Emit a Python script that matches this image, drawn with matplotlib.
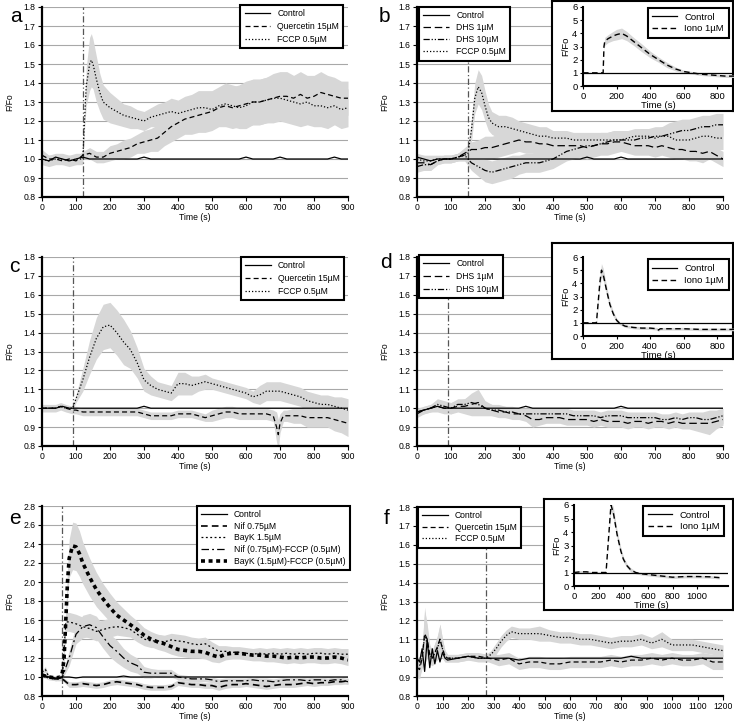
import numpy as np
import matplotlib
matplotlib.use("Agg")
import matplotlib.pyplot as plt

plt.rcParams['font.family'] = ['Liberation Sans', 'DejaVu Sans']

# regular 20 s sampling grid used by most traces of the 900 s panels
t900 = np.arange(0, 901, 20)

# ---------------- panel a ----------------
a_ctrl = [1.00,0.99,1.01,1.00,0.99,1.00,1.01,1.00,1.00,1.00,
          1.00,1.00,1.00,1.00,1.00,1.01,1.00,1.00,1.00,1.00,
          1.00,1.00,1.00,1.00,1.00,1.00,1.00,1.00,1.00,1.00,
          1.01,1.00,1.00,1.00,1.00,1.01,1.00,1.00,1.00,1.00,
          1.00,1.00,1.00,1.01,1.00,1.00]
a_quer = [1.02,1.00,1.00,0.99,1.00,0.99,1.02,1.03,1.01,1.01,
          1.03,1.04,1.05,1.06,1.08,1.09,1.10,1.11,1.14,1.17,
          1.19,1.21,1.22,1.23,1.24,1.25,1.27,1.28,1.27,1.28,
          1.29,1.30,1.30,1.31,1.32,1.33,1.33,1.32,1.34,1.32,
          1.33,1.35,1.34,1.33,1.32,1.32]
a_quer_err = [0.03,0.02,0.02,0.02,0.02,0.02,0.02,0.03,0.03,0.03,
              0.04,0.04,0.05,0.05,0.05,0.06,0.06,0.07,0.07,0.08,
              0.08,0.08,0.09,0.09,0.10,0.10,0.10,0.11,0.11,0.11,
              0.12,0.12,0.12,0.12,0.13,0.13,0.13,0.12,0.12,0.12,
              0.11,0.11,0.10,0.10,0.09,0.09]
a_fccp_t = [0,20,40,60,80,100,120,125,130,140,145,150,160,170,180,
            200,220,240,260,280,300,320,340,360,380,400,420,440,460,480,
            500,520,540,560,580,600,620,640,660,680,700,720,740,760,780,
            800,820,840,860,880,900]
a_fccp = [1.00,0.99,1.00,1.00,0.99,1.00,1.00,1.20,1.38,1.50,1.52,1.50,1.42,1.35,1.30,
          1.27,1.25,1.23,1.22,1.21,1.20,1.22,1.23,1.24,1.25,1.24,1.25,1.26,1.27,1.27,
          1.26,1.28,1.29,1.28,1.27,1.28,1.30,1.30,1.31,1.32,1.32,1.31,1.30,1.29,1.30,
          1.28,1.28,1.27,1.28,1.26,1.27]
a_fccp_err = [0.03,0.03,0.03,0.03,0.03,0.03,0.03,0.05,0.10,0.14,0.14,0.13,0.12,0.10,0.09,
              0.08,0.07,0.06,0.06,0.05,0.05,0.05,0.06,0.06,0.07,0.07,0.08,0.08,0.09,0.09,
              0.10,0.10,0.11,0.11,0.11,0.12,0.12,0.12,0.12,0.12,0.12,0.12,0.12,0.12,0.12,
              0.11,0.11,0.11,0.10,0.10,0.10]

# ---------------- panel b ----------------
b_ctrl = [1.01,1.00,0.99,1.00,1.00,1.00,1.00,1.00,1.00,1.00,
          1.00,1.00,1.00,1.00,1.00,1.00,1.00,1.00,1.00,1.00,
          1.00,1.00,1.00,1.00,1.00,1.01,1.00,1.00,1.00,1.00,
          1.01,1.00,1.00,1.00,1.00,1.00,1.00,1.00,1.00,1.00,
          1.00,1.00,1.00,1.00,1.00,1.00]
b_dhs1 = [0.98,0.98,0.97,0.99,1.00,1.00,1.01,1.03,1.05,1.05,
          1.06,1.06,1.07,1.08,1.09,1.10,1.09,1.09,1.08,1.08,
          1.07,1.07,1.07,1.07,1.07,1.06,1.07,1.08,1.08,1.09,
          1.09,1.08,1.07,1.07,1.07,1.06,1.07,1.06,1.05,1.05,
          1.04,1.04,1.03,1.04,1.02,1.00]
b_dhs1_err = [0.04,0.04,0.03,0.02,0.02,0.02,0.02,0.03,0.04,0.05,
              0.06,0.06,0.06,0.06,0.06,0.06,0.06,0.06,0.06,0.06,
              0.06,0.06,0.06,0.06,0.06,0.06,0.06,0.06,0.06,0.06,
              0.05,0.05,0.05,0.05,0.05,0.05,0.05,0.05,0.05,0.05,
              0.05,0.05,0.05,0.04,0.04,0.04]
b_dhs10 = [0.96,0.97,0.97,0.99,1.00,1.00,1.01,1.02,0.98,0.96,
           0.94,0.93,0.94,0.95,0.96,0.97,0.98,0.98,0.98,0.99,
           1.00,1.02,1.04,1.05,1.06,1.07,1.07,1.08,1.09,1.10,
           1.10,1.10,1.10,1.11,1.11,1.12,1.12,1.13,1.14,1.15,
           1.15,1.16,1.17,1.17,1.18,1.18]
b_dhs10_err = [0.03,0.03,0.03,0.02,0.02,0.02,0.02,0.03,0.04,0.05,
               0.06,0.06,0.06,0.06,0.06,0.05,0.05,0.05,0.05,0.05,
               0.05,0.05,0.05,0.05,0.05,0.05,0.05,0.05,0.05,0.05,
               0.05,0.05,0.05,0.05,0.05,0.05,0.05,0.06,0.06,0.06,
               0.06,0.06,0.06,0.06,0.06,0.06]
b_fccp_t = [0,20,40,60,80,100,120,140,150,160,170,180,190,200,210,220,
            240,260,280,300,320,340,360,380,400,420,440,460,480,
            500,520,540,560,580,600,620,640,660,680,700,720,740,760,780,
            800,820,840,860,880,900]
b_fccp = [1.00,0.99,0.99,1.00,1.00,1.00,1.01,1.02,1.03,1.15,1.32,1.38,1.35,1.28,1.22,1.19,
          1.17,1.17,1.16,1.15,1.14,1.13,1.12,1.12,1.11,1.11,1.11,1.10,1.10,
          1.10,1.10,1.10,1.10,1.10,1.10,1.11,1.12,1.12,1.12,1.11,1.12,1.12,1.10,1.10,
          1.10,1.11,1.12,1.12,1.11,1.11]
b_fccp_err = [0.03,0.03,0.03,0.02,0.02,0.02,0.02,0.03,0.04,0.06,0.08,0.09,0.09,0.08,0.07,0.06,
              0.06,0.06,0.06,0.05,0.05,0.05,0.05,0.05,0.04,0.04,0.04,0.04,0.04,
              0.04,0.04,0.04,0.04,0.04,0.04,0.04,0.04,0.04,0.04,0.05,0.05,0.05,0.05,0.05,
              0.06,0.06,0.06,0.06,0.06,0.06]
b_ins_t = [0,100,120,125,130,150,180,200,230,260,300,350,400,450,500,550,600,650,700,750,800,850,900]
b_ins_iono = [1.0,1.0,1.0,3.0,3.4,3.6,3.8,3.9,4.0,3.8,3.4,2.9,2.4,2.0,1.6,1.3,1.1,1.0,0.9,0.85,0.8,0.75,0.75]
b_ins_err = [0.05,0.05,0.05,0.2,0.3,0.3,0.35,0.4,0.4,0.35,0.3,0.3,0.25,0.2,0.2,0.15,0.1,0.1,0.1,0.1,0.1,0.1,0.1]

# ---------------- panel c ----------------
c_ctrl = [1.00,1.00,1.00,1.01,1.00,1.00,1.00,1.00,1.00,1.00,
          1.00,1.00,1.00,1.00,1.00,1.01,1.00,1.00,1.00,1.00,
          1.00,1.00,1.00,1.00,1.00,1.00,1.00,1.00,1.00,1.00,
          1.00,1.00,1.00,1.00,1.00,1.00,1.00,1.00,1.00,1.00,
          1.00,1.00,1.00,1.00,1.00,1.00]
c_quer_t = [0,20,40,55,70,90,
            100,120,140,160,180,200,220,240,260,280,
            300,320,340,360,380,400,420,440,460,480,
            500,520,540,560,580,600,620,640,660,680,
            690,695,700,710,
            720,740,760,780,800,820,840,860,880,900]
c_quer = [1.00,1.00,1.00,1.01,1.00,0.99,
          0.99,0.98,0.98,0.98,0.98,0.98,0.98,0.98,0.98,0.98,
          0.97,0.96,0.96,0.96,0.96,0.97,0.97,0.97,0.96,0.95,
          0.96,0.97,0.98,0.98,0.97,0.97,0.97,0.97,0.97,0.96,
          0.90,0.86,0.92,0.96,
          0.96,0.96,0.96,0.95,0.95,0.95,0.95,0.94,0.93,0.92]
c_quer_err = [0.02,0.02,0.02,0.02,0.02,0.02,
              0.02,0.02,0.02,0.02,0.02,0.02,0.02,0.02,0.02,0.02,
              0.02,0.02,0.02,0.02,0.02,0.02,0.02,0.02,0.02,0.02,
              0.03,0.03,0.03,0.03,0.03,0.03,0.03,0.03,0.03,0.03,
              0.08,0.08,0.05,0.03,
              0.03,0.04,0.04,0.05,0.05,0.05,0.05,0.06,0.06,0.07]
c_fccp_t = [0,20,40,55,70,90,
            100,120,140,160,180,200,220,240,260,280,
            300,320,340,360,380,400,420,440,460,480,
            500,520,540,560,580,600,620,640,660,680,
            700,720,740,760,780,800,820,840,860,880,900]
c_fccp = [1.00,1.00,1.00,1.01,1.00,1.00,
          1.05,1.15,1.27,1.37,1.43,1.44,1.40,1.35,1.31,1.24,
          1.15,1.12,1.10,1.09,1.08,1.13,1.13,1.12,1.13,1.14,
          1.13,1.12,1.11,1.10,1.09,1.08,1.06,1.07,1.09,1.09,
          1.09,1.08,1.07,1.06,1.04,1.03,1.02,1.02,1.01,1.00,0.99]
c_fccp_err = [0.01,0.01,0.01,0.01,0.01,0.01,
              0.02,0.06,0.09,0.11,0.12,0.12,0.12,0.12,0.10,0.08,
              0.06,0.05,0.04,0.04,0.04,0.06,0.06,0.05,0.04,0.04,
              0.03,0.03,0.03,0.03,0.03,0.03,0.03,0.05,0.05,0.05,
              0.05,0.05,0.05,0.05,0.05,0.05,0.05,0.05,0.05,0.06,0.06]

# ---------------- panel d ----------------
d_ctrl = [0.98,0.99,1.00,1.01,1.00,1.00,1.00,1.00,1.00,1.00,
          1.00,1.00,1.00,1.00,1.00,1.00,1.01,1.00,1.00,1.00,
          1.00,1.00,1.00,1.00,1.00,1.00,1.00,1.00,1.00,1.00,
          1.01,1.00,1.00,1.00,1.00,1.00,1.00,1.00,1.00,1.00,
          1.00,1.00,1.00,1.00,1.00,1.00]
d_dhs1 = [0.98,0.99,1.00,1.01,1.00,1.00,1.01,1.01,1.02,1.03,
          1.00,0.99,0.98,0.98,0.97,0.97,0.96,0.94,0.94,0.95,
          0.95,0.95,0.94,0.94,0.94,0.94,0.93,0.94,0.93,0.93,
          0.93,0.92,0.93,0.93,0.92,0.93,0.93,0.92,0.93,0.92,
          0.92,0.92,0.92,0.92,0.93,0.94]
d_dhs1_err = [0.02,0.02,0.02,0.03,0.03,0.03,0.03,0.04,0.06,0.07,
              0.04,0.03,0.03,0.03,0.03,0.03,0.03,0.04,0.03,0.03,
              0.03,0.03,0.03,0.03,0.03,0.03,0.03,0.03,0.03,0.03,
              0.03,0.03,0.03,0.03,0.03,0.03,0.03,0.03,0.03,0.03,
              0.03,0.04,0.05,0.06,0.04,0.03]
d_dhs10 = [0.97,0.99,1.00,1.02,1.01,1.00,1.02,1.02,1.03,1.02,
           1.00,0.99,0.99,0.98,0.98,0.97,0.97,0.97,0.97,0.97,
           0.97,0.97,0.97,0.96,0.96,0.96,0.96,0.95,0.96,0.96,
           0.96,0.95,0.95,0.95,0.95,0.95,0.94,0.94,0.95,0.94,
           0.95,0.95,0.94,0.94,0.95,0.96]
d_dhs10_err = [0.02,0.02,0.02,0.03,0.03,0.03,0.03,0.03,0.04,0.04,
               0.03,0.03,0.03,0.03,0.03,0.03,0.03,0.03,0.03,0.03,
               0.03,0.03,0.03,0.03,0.03,0.03,0.03,0.03,0.03,0.03,
               0.03,0.03,0.03,0.03,0.03,0.03,0.03,0.03,0.03,0.03,
               0.03,0.03,0.04,0.05,0.04,0.04]
d_ins_t = [0,80,90,100,110,120,140,160,180,200,220,250,300,350,400,440,450,460,500,600,700,800,900]
d_ins_iono = [1.0,1.0,2.5,4.0,5.0,4.7,3.5,2.4,1.7,1.2,0.95,0.75,0.65,0.6,0.6,0.55,0.45,0.55,0.55,0.55,0.5,0.5,0.5]
d_ins_err = [0.05,0.05,0.3,0.4,0.5,0.45,0.35,0.25,0.2,0.15,0.1,0.1,0.1,0.1,0.1,0.1,0.1,0.1,0.1,0.1,0.1,0.1,0.1]

# ---------------- panel e ----------------
e_ctrl = [1.02,1.00,0.99,1.00,1.00,0.99,1.00,1.00,1.00,1.00,
          1.00,1.00,1.01,1.00,1.00,1.00,1.00,1.00,1.00,1.00,
          1.00,1.00,1.00,1.00,1.00,1.00,1.00,1.00,1.00,1.00,
          1.00,1.00,1.00,1.00,1.00,1.00,1.00,1.00,1.00,1.00,
          1.00,1.00,1.00,1.00,1.00,1.00]
e_nif = [1.02,0.99,0.98,0.98,0.92,0.92,0.93,0.92,0.91,0.92,
         0.94,0.95,0.94,0.93,0.92,0.90,0.89,0.89,0.89,0.90,
         0.94,0.93,0.92,0.92,0.91,0.91,0.89,0.91,0.92,0.92,
         0.93,0.92,0.91,0.90,0.91,0.92,0.92,0.92,0.93,0.94,
         0.93,0.94,0.94,0.95,0.95,0.96]
e_nif_err = [0.02,0.02,0.02,0.02,0.03,0.03,0.03,0.03,0.03,0.03,
             0.03,0.03,0.03,0.03,0.03,0.03,0.03,0.03,0.03,0.03,
             0.03,0.03,0.03,0.03,0.03,0.03,0.03,0.03,0.03,0.03,
             0.03,0.03,0.03,0.03,0.03,0.03,0.03,0.03,0.03,0.03,
             0.03,0.03,0.03,0.03,0.03,0.03]
e_bayk_t = [0,10,20,40,60,65,70,
            80,100,120,140,160,180,200,220,240,260,
            280,300,320,340,360,380,400,420,440,460,
            480,500,520,540,560,580,600,620,640,660,
            680,700,720,740,760,780,800,820,840,860,
            880,900]
e_bayk = [1.05,1.08,1.00,0.98,1.00,1.30,1.58,
          1.58,1.56,1.53,1.51,1.48,1.50,1.52,1.53,1.52,1.50,
          1.45,1.40,1.38,1.38,1.37,1.39,1.38,1.37,1.35,1.34,
          1.35,1.31,1.27,1.27,1.26,1.26,1.25,1.24,1.25,1.24,
          1.25,1.24,1.25,1.24,1.25,1.24,1.25,1.25,1.24,1.25,
          1.24,1.24]
e_bayk_err = [0.02,0.03,0.02,0.02,0.02,0.08,0.10,
              0.10,0.10,0.10,0.10,0.10,0.10,0.10,0.09,0.09,0.08,
              0.08,0.07,0.07,0.07,0.07,0.07,0.07,0.07,0.07,0.07,
              0.07,0.06,0.06,0.06,0.06,0.06,0.06,0.06,0.06,0.06,
              0.06,0.06,0.06,0.06,0.06,0.06,0.06,0.06,0.06,0.06,
              0.06,0.06]
e_niff = [1.02,1.00,0.99,1.00,1.20,1.45,1.53,1.55,1.52,1.42,
          1.33,1.27,1.20,1.15,1.12,1.05,1.04,1.04,1.04,1.04,
          1.00,0.99,0.98,0.98,0.98,0.97,0.95,0.96,0.96,0.96,
          0.96,0.97,0.96,0.96,0.95,0.96,0.97,0.97,0.97,0.96,
          0.97,0.97,0.96,0.97,0.97,0.95]
e_niff_err = [0.02,0.02,0.02,0.02,0.08,0.10,0.12,0.12,0.12,0.12,
              0.12,0.12,0.10,0.09,0.08,0.06,0.05,0.04,0.04,0.04,
              0.03,0.03,0.03,0.03,0.03,0.03,0.03,0.03,0.03,0.03,
              0.03,0.03,0.03,0.03,0.03,0.03,0.03,0.03,0.03,0.03,
              0.03,0.03,0.03,0.03,0.03,0.03]
e_baykf_t = [0,20,40,55,60,65,70,75,80,90,100,110,120,
             140,160,180,200,220,240,260,280,300,320,
             340,360,380,400,420,440,460,480,500,520,
             540,560,580,600,620,640,660,680,700,720,
             740,760,780,800,820,840,860,880,900]
e_baykf = [1.02,1.00,0.99,1.00,1.05,1.20,1.60,2.00,2.25,2.38,2.37,2.30,2.20,
           2.05,1.92,1.82,1.73,1.65,1.60,1.55,1.50,1.44,1.40,
           1.37,1.35,1.32,1.29,1.28,1.27,1.27,1.26,1.23,1.21,
           1.24,1.25,1.25,1.24,1.23,1.23,1.22,1.22,1.21,1.20,
           1.21,1.20,1.21,1.21,1.20,1.20,1.21,1.20,1.18]
e_baykf_err = [0.02,0.02,0.02,0.02,0.03,0.05,0.10,0.15,0.20,0.25,0.25,0.24,0.22,
               0.20,0.18,0.16,0.15,0.14,0.12,0.10,0.09,0.08,0.08,
               0.08,0.08,0.08,0.07,0.07,0.07,0.07,0.07,0.07,0.06,
               0.06,0.06,0.06,0.06,0.06,0.06,0.06,0.06,0.06,0.06,
               0.06,0.06,0.06,0.06,0.06,0.06,0.06,0.06,0.06]

# ---------------- panel f ----------------
f_t = [0,10,20,30,40,50,60,70,80,90,100,110,120,
       160,200,240,280,320,360,400,440,480,520,
       560,600,640,680,720,760,800,840,880,920,
       960,1000,1040,1080,1120,1160,1200]
f_ctrl = [1.00,0.98,1.05,0.93,1.10,0.95,1.05,0.97,1.04,0.98,1.03,1.00,0.99,
          1.00,1.01,1.00,1.00,1.00,1.00,0.99,1.00,1.00,1.00,
          1.00,1.00,1.00,1.00,1.00,1.00,1.00,1.01,1.00,1.00,
          1.00,1.00,1.00,1.00,1.00,1.00,1.00]
f_quer = [0.95,0.94,1.00,1.13,1.10,1.02,1.00,1.03,1.06,1.10,1.05,1.01,1.00,
          1.00,1.01,1.01,1.00,0.99,1.00,0.97,0.98,0.98,0.97,
          0.97,0.98,0.98,0.98,0.98,0.99,0.98,0.99,0.99,1.00,
          0.99,1.00,0.99,0.99,1.00,0.98,0.98]
f_quer_err = [0.05,0.05,0.05,0.12,0.08,0.05,0.04,0.05,0.06,0.08,0.05,0.03,0.02,
              0.02,0.02,0.02,0.02,0.03,0.03,0.03,0.03,0.03,0.03,
              0.03,0.03,0.03,0.03,0.03,0.03,0.03,0.03,0.03,0.03,
              0.03,0.03,0.03,0.03,0.03,0.04,0.04]
f_fccp_t = [0,10,20,30,40,50,60,70,80,90,100,110,120,
            160,200,240,270,290,310,330,350,370,
            400,440,480,520,560,600,640,680,720,760,800,
            840,880,920,960,1000,1040,1080,1120,1160,1200]
f_fccp = [0.95,0.96,1.00,1.12,1.08,1.02,1.00,1.03,1.05,1.10,1.05,1.01,1.00,
          1.00,1.01,1.00,1.00,1.02,1.05,1.09,1.12,1.14,
          1.13,1.13,1.13,1.12,1.11,1.11,1.10,1.10,1.09,1.08,1.09,
          1.09,1.10,1.08,1.10,1.07,1.07,1.07,1.06,1.05,1.04]
f_fccp_err = [0.05,0.05,0.05,0.15,0.08,0.05,0.04,0.05,0.06,0.08,0.05,0.03,0.02,
              0.02,0.02,0.02,0.02,0.02,0.03,0.03,0.03,0.03,
              0.03,0.03,0.04,0.03,0.03,0.03,0.03,0.03,0.03,0.03,0.03,
              0.03,0.03,0.03,0.04,0.03,0.03,0.03,0.03,0.03,0.03]
f_ins_t = [0,50,100,150,250,260,280,300,320,350,380,400,430,460,500,550,600,700,800,900,1000,1100,1180]
f_ins_iono = [1.0,1.05,1.05,1.0,1.0,1.0,3.5,6.0,5.4,3.8,2.6,2.0,1.5,1.2,1.0,0.9,0.85,0.75,0.65,0.7,0.7,0.68,0.62]
f_ins_err = [0.05,0.1,0.1,0.05,0.05,0.05,0.2,0.4,0.4,0.3,0.25,0.2,0.15,0.15,0.1,0.1,0.1,0.1,0.1,0.1,0.1,0.1,0.1]

# line styles
LS_CTRL = '-'
LS_QUER = (0, (4, 2.5))
LS_FCCP = (0, (1, 1.6))
LS_DHS1 = (0, (6, 3))
LS_DHS10 = (0, (5, 1.5, 1, 1.5, 1, 1.5))
LS_NIF = (0, (4, 2.5))
LS_BAYK = (0, (1.5, 2))
LS_NIFF = (0, (6, 2.5, 1.5, 2.5))
LS_BAYKF = (0, (1.1, 1.0))
BAND = '#d7d7d7'

FS = 6.2

fig = plt.figure(figsize=(7.34, 7.21), dpi=100)
W, H = 734.0, 721.0


def px_rect(x0, y_top, x1, y_bot):
    #convert pixel box (from the top-left) to figure fraction
    return [x0 / W, 1 - y_bot / H, (x1 - x0) / W, (y_bot - y_top) / H]


def main_axes(rect, ymin, ymax, ystep, xmax, letter, letter_xy):
    ax = fig.add_axes(rect)
    ax.set_xlim(0, xmax)
    ax.set_ylim(ymin, ymax)
    ax.set_yticks(np.arange(ymin, ymax + 1e-6, ystep))
    ax.set_xticks(np.arange(0, xmax + 1, 100))
    ax.yaxis.set_major_formatter('{x:.1f}')
    ax.grid(axis='y', color='#a8a8a8', lw=0.8)
    ax.set_axisbelow(True)
    for s in ['top', 'right']:
        ax.spines[s].set_visible(False)
    for s in ['left', 'bottom']:
        ax.spines[s].set_linewidth(1.6)
    ax.tick_params(labelsize=FS, length=3, width=0.8, pad=1.5)
    ax.set_xlabel('Time (s)', fontsize=FS, labelpad=0.5)
    ax.set_ylabel('F/Fo', fontsize=FS, labelpad=7)
    fig.text(letter_xy[0] / W, 1 - letter_xy[1] / H, letter, fontsize=15,
             ha='center', va='center')
    return ax


def trace(ax, t, v, ls, label, lw=0.9, err=None):
    t = np.asarray(t)
    v = np.asarray(v)
    if err is not None:
        e = np.asarray(err)
        ax.fill_between(t, v - e, v + e, color=BAND, lw=0, zorder=1)
    ax.plot(t, v, color='black', ls=ls, lw=lw, label=label, zorder=3)


def add_legend(ax, loc, anchor, fs=FS, hl=3.0, spacing=0.42):
    leg = ax.legend(loc=loc, bbox_to_anchor=anchor, fontsize=fs, fancybox=False,
                    framealpha=1, edgecolor='black', borderaxespad=0,
                    handlelength=hl, labelspacing=spacing, borderpad=0.5)
    leg.get_frame().set_linewidth(1.5)
    leg.set_zorder(10)
    return leg


def inset(box_px, ax_px, t, iono, err, xmax, xticks, leg_anchor):
    box = fig.add_axes(px_rect(*box_px))
    box.set_xticks([])
    box.set_yticks([])
    for s in box.spines.values():
        s.set_linewidth(1.5)
    ia = fig.add_axes(px_rect(*ax_px))
    ia.patch.set_alpha(0)
    ia.set_xlim(0, xmax)
    ia.set_ylim(0, 6)
    ia.set_yticks(range(0, 7))
    ia.set_xticks(xticks)
    for s in ['top', 'right']:
        ia.spines[s].set_visible(False)
    for s in ['left', 'bottom']:
        ia.spines[s].set_linewidth(1.5)
    ia.tick_params(labelsize=6.8, length=2.5, width=0.8, pad=1.5)
    ia.set_xlabel('Time (s)', fontsize=6.8, labelpad=0.5)
    ia.set_ylabel('F/Fo', fontsize=6.8, labelpad=1)
    ia.plot([0, xmax], [1, 1], color='black', lw=0.9, label='Control', zorder=3)
    trace(ia, t, iono, (0, (4, 2.5)), 'Iono 1µM', lw=1.0, err=err)
    add_legend(ia, 'upper right', leg_anchor, fs=6.8, hl=2.6, spacing=0.3)
    return ia


# ---- a ----
ax = main_axes(px_rect(42, 7, 348, 197), 0.8, 1.8, 0.1, 900, 'a', (16, 16))
trace(ax, a_fccp_t, a_fccp, LS_FCCP, None, err=a_fccp_err)
trace(ax, t900, a_quer, LS_QUER, None, err=a_quer_err)
ax.axvline(120, color='#555555', lw=0.9, ls=(0, (5, 2, 1, 2)), zorder=2)
ax.plot(t900, a_ctrl, color='black', lw=0.9, ls=LS_CTRL, label='Control', zorder=4)
ax.plot([], [], color='black', lw=0.9, ls=LS_QUER, label='Quercetin 15µM')
ax.plot([], [], color='black', lw=0.9, ls=LS_FCCP, label='FCCP 0.5µM')
add_legend(ax, 'upper right', (0.985, 1.01))

# ---- b ----
ax = main_axes(px_rect(417, 7, 723, 197), 0.8, 1.8, 0.1, 900, 'b', (384, 16))
trace(ax, b_fccp_t, b_fccp, LS_FCCP, None, err=b_fccp_err)
trace(ax, t900, b_dhs10, LS_DHS10, None, err=b_dhs10_err)
trace(ax, t900, b_dhs1, LS_DHS1, None, err=b_dhs1_err)
ax.axvline(150, color='#555555', lw=0.9, ls=(0, (5, 2, 1, 2)), zorder=2)
ax.plot(t900, b_ctrl, color='black', lw=0.9, label='Control', zorder=4)
ax.plot([], [], color='black', lw=0.9, ls=LS_DHS1, label='DHS 1µM')
ax.plot([], [], color='black', lw=0.9, ls=LS_DHS10, label='DHS 10µM')
ax.plot([], [], color='black', lw=0.9, ls=LS_FCCP, label='FCCP 0.5µM')
add_legend(ax, 'upper left', (0.007, 1.0), spacing=0.35)
inset((552, 1, 733, 111), (583, 7, 734, 86), b_ins_t, b_ins_iono, b_ins_err,
      900, [0, 200, 400, 600, 800], (0.965, 0.99))

# ---- c ----
ax = main_axes(px_rect(42, 257, 348, 446), 0.8, 1.8, 0.1, 900, 'c', (14, 266))
trace(ax, c_fccp_t, c_fccp, LS_FCCP, None, err=c_fccp_err)
trace(ax, c_quer_t, c_quer, LS_QUER, None, err=c_quer_err)
ax.axvline(90, color='#555555', lw=0.9, ls=(0, (5, 2, 1, 2)), zorder=2)
ax.plot(t900, c_ctrl, color='black', lw=0.9, label='Control', zorder=4)
ax.plot([], [], color='black', lw=0.9, ls=LS_QUER, label='Quercetin 15µM')
ax.plot([], [], color='black', lw=0.9, ls=LS_FCCP, label='FCCP 0.5µM')
add_legend(ax, 'upper right', (0.987, 1.0))

# ---- d ----
ax = main_axes(px_rect(417, 257, 723, 446), 0.8, 1.8, 0.1, 900, 'd', (386, 262))
trace(ax, t900, d_dhs10, LS_DHS10, None, err=d_dhs10_err)
trace(ax, t900, d_dhs1, LS_DHS1, None, err=d_dhs1_err)
ax.axvline(90, color='#555555', lw=0.9, ls=(0, (5, 2, 1, 2)), zorder=2)
ax.plot(t900, d_ctrl, color='black', lw=0.9, label='Control', zorder=4)
ax.plot([], [], color='black', lw=0.9, ls=LS_DHS1, label='DHS 1µM')
ax.plot([], [], color='black', lw=0.9, ls=LS_DHS10, label='DHS 10µM')
add_legend(ax, 'upper left', (0.007, 1.01))
inset((552, 243, 733, 359), (583, 257, 734, 336), d_ins_t, d_ins_iono, d_ins_err,
      900, [0, 200, 400, 600, 800], (0.965, 0.97))

# ---- e ----
ax = main_axes(px_rect(42, 506, 348, 696), 0.8, 2.8, 0.2, 900, 'e', (15, 518))
trace(ax, e_baykf_t, e_baykf, LS_BAYKF, None, lw=2.6, err=e_baykf_err)
trace(ax, e_bayk_t, e_bayk, LS_BAYK, None, err=e_bayk_err)
trace(ax, t900, e_niff, LS_NIFF, None, err=e_niff_err)
trace(ax, t900, e_nif, LS_NIF, None, lw=1.2, err=e_nif_err)
ax.axvline(60, color='#555555', lw=0.9, ls=(0, (5, 2, 1, 2)), zorder=2)
ax.plot(t900, e_ctrl, color='black', lw=0.9, label='Control', zorder=4)
ax.plot([], [], color='black', lw=1.2, ls=LS_NIF, label='Nif 0.75µM')
ax.plot([], [], color='black', lw=0.9, ls=LS_BAYK, label='BayK 1.5µM')
ax.plot([], [], color='black', lw=0.9, ls=LS_NIFF, label='Nif (0.75µM)-FCCP (0.5µM)')
ax.plot([], [], color='black', lw=2.6, ls=LS_BAYKF, label='BayK (1.5µM)-FCCP (0.5µM)')
add_legend(ax, 'upper right', (1.006, 1.0), spacing=0.3)

# ---- f ----
ax = main_axes(px_rect(417, 507, 723, 696), 0.8, 1.8, 0.1, 1200, 'f', (387, 518))
trace(ax, f_fccp_t, f_fccp, LS_FCCP, None, err=f_fccp_err)
trace(ax, f_t, f_quer, LS_QUER, None, err=f_quer_err)
ax.axvline(270, color='#555555', lw=0.9, ls=(0, (5, 2, 1, 2)), zorder=2)
ax.plot(f_t, f_ctrl, color='black', lw=0.9, label='Control', zorder=4)
ax.plot([], [], color='black', lw=0.9, ls=LS_QUER, label='Quercetin 15µM')
ax.plot([], [], color='black', lw=0.9, ls=LS_FCCP, label='FCCP 0.5µM')
add_legend(ax, 'upper left', (0.003, 1.0), spacing=0.3)
inset((544, 499, 733, 610), (574, 505, 728, 586), f_ins_t, f_ins_iono, f_ins_err,
      1250, [0, 200, 400, 600, 800, 1000], (0.975, 0.99))

fig.savefig('out.png', dpi=100)
